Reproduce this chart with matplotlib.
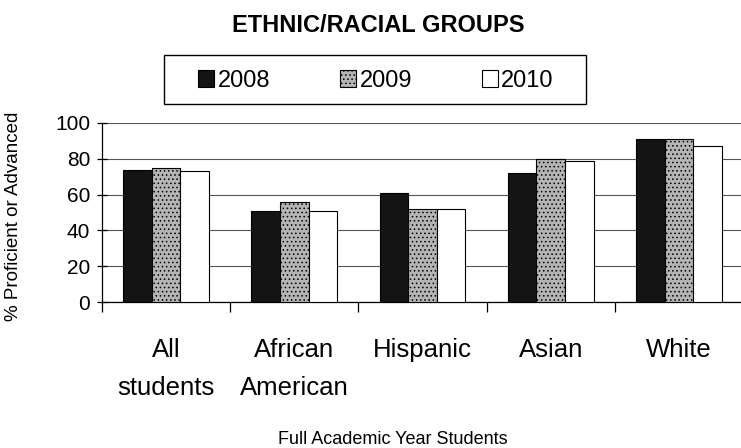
import matplotlib
matplotlib.use("Agg")
import matplotlib.pyplot as plt
from matplotlib.patches import Rectangle
import numpy as np

plt.rcParams['font.family'] = ['Liberation Sans', 'DejaVu Sans']
plt.rcParams['hatch.linewidth'] = 0.6

groups = ["All\nstudents", "African\nAmerican", "Hispanic", "Asian", "White"]
years = ["2008", "2009", "2010"]
vals_2008 = [74, 51, 61, 72, 91]
vals_2009 = [75, 56, 52, 80, 91]
vals_2010 = [73, 51, 52, 79, 87]

W, H = 741, 448
fig = plt.figure(figsize=(W / 100, H / 100), dpi=100)
ax = fig.add_axes([102 / W, 1 - 302 / H, 641 / W, 179 / H])

x = np.arange(len(groups))
bw = 0.223
styles = [
    dict(color="#141414", hatch=None),
    dict(color="#b4b4b4", hatch="...."),
    dict(color="white", hatch=None),
]
series = [vals_2008, vals_2009, vals_2010]
handles = []
for i, (vals, st) in enumerate(zip(series, styles)):
    b = ax.bar(x + (i - 1) * bw, vals, bw, facecolor=st["color"],
               edgecolor="black", hatch=st["hatch"], linewidth=0.8,
               label=years[i], zorder=3)
    handles.append(b)

ax.set_xlim(-0.5, len(groups) - 0.5)
ax.set_ylim(0, 100)
ax.set_yticks([0, 20, 40, 60, 80, 100])
ax.yaxis.grid(True, color="#555555", linewidth=0.8, zorder=0)
ax.set_axisbelow(True)

for s in ["top", "right"]:
    ax.spines[s].set_visible(False)
ax.spines["left"].set_linewidth(0.9)
ax.spines["bottom"].set_linewidth(0.9)

# boundary ticks between categories, labels at centers
ax.set_xticks(np.arange(-0.5, len(groups), 1.0))
ax.set_xticklabels([])
ax.tick_params(axis="x", which="major", direction="out", length=7, width=0.9)
ax.set_xticks(x, minor=True)
ax.set_xticklabels(groups, minor=True, fontsize=18.5, linespacing=1.72)
ax.tick_params(axis="x", which="minor", length=0, pad=26)
ax.tick_params(axis="y", direction="inout", length=7, width=0.9, labelsize=15, pad=5)

fig.text(378 / W, 1 - 32 / H, "ETHNIC/RACIAL GROUPS", fontsize=17, fontweight="bold",
         ha="center", va="baseline")

fig.legend(handles=handles, labels=years, loc="center", bbox_to_anchor=(376 / W, 1 - 81 / H),
           ncol=3, frameon=False, fontsize=17, columnspacing=2.95, handletextpad=0.15,
           handlelength=0.68, handleheight=0.76, borderpad=0, borderaxespad=0)
fig.patches.append(Rectangle((164 / W, 1 - 104 / H), 422 / W, 49 / H, transform=fig.transFigure,
                             fill=False, edgecolor="black", linewidth=1.0))

fig.text(14 / W, 1 - 216 / H, "% Proficient or Advanced", rotation=90, fontsize=13.5,
         ha="center", va="center")
fig.text(393 / W, 1 - 439 / H, "Full Academic Year Students", fontsize=13,
         ha="center", va="center")

fig.savefig("out.png", dpi=100)
